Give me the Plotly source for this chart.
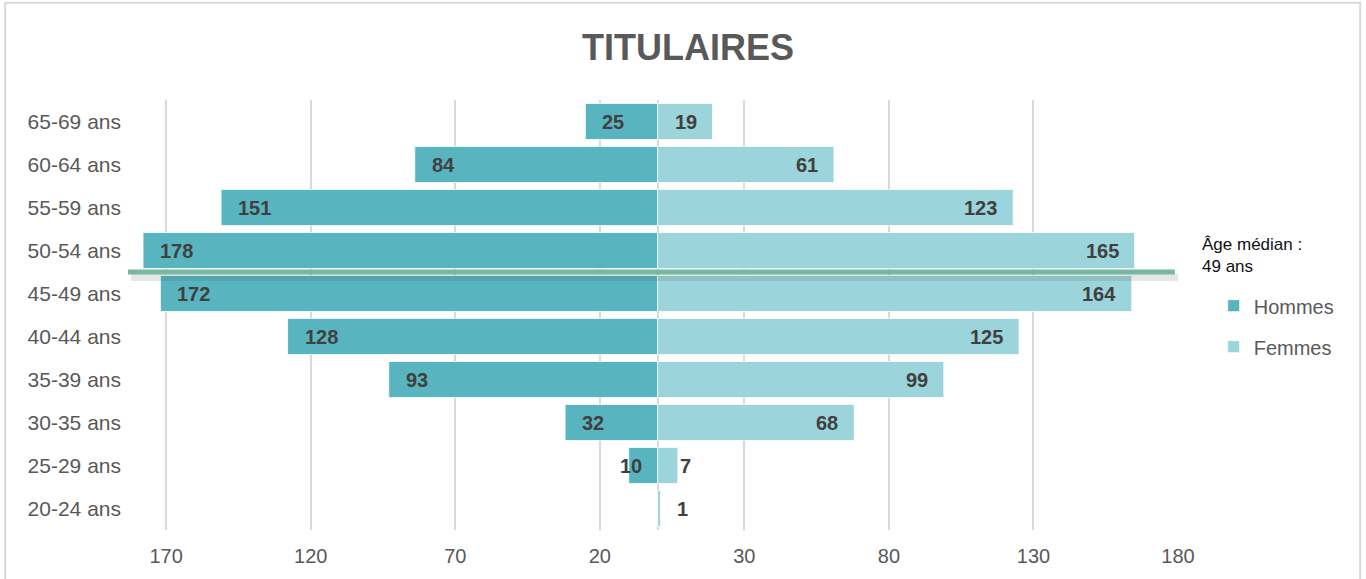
import plotly.graph_objects as go

categories = ["20-24 ans", "25-29 ans", "30-35 ans", "35-39 ans", "40-44 ans",
              "45-49 ans", "50-54 ans", "55-59 ans", "60-64 ans", "65-69 ans"]
hommes = [0, 10, 32, 93, 128, 172, 178, 151, 84, 25]
femmes = [1, 7, 68, 99, 125, 164, 165, 123, 61, 19]
tick_vals = [-170, -120, -70, -20, 30, 80, 130, 180]
tick_text = ["170", "120", "70", "20", "30", "80", "130", "180"]
median_label = "Âge médian :<br>49 ans"
median_pos = 5.5  # boundary between 45-49 and 50-54

C_H = "#58B5C0"
C_F = "#9BD4DB"
TXT = "#595959"
LAB = "#404040"
FONT = "Liberation Sans, Arial, sans-serif"

fig = go.Figure()
fig.add_trace(go.Bar(
    y=categories, x=[-v for v in hommes], orientation="h", name="Hommes",
    marker=dict(color=C_H, line=dict(color="white", width=0.8)),
    legendgroup="h", hoverinfo="skip",
))
fig.add_trace(go.Bar(
    y=categories, x=femmes, orientation="h", name="Femmes",
    marker=dict(color=C_F, line=dict(color="white", width=0.8)),
    legendgroup="f", hoverinfo="skip",
))

lab_font = dict(size=20, color=LAB, family=FONT)
annotations = []
for cat, v in zip(categories, hommes):
    if v <= 0:
        continue
    if v >= 20:
        annotations.append(dict(x=-v, y=cat, text=f"<b>{v}</b>", xanchor="left", xshift=15,
                                showarrow=False, font=lab_font))
    else:
        annotations.append(dict(x=-v, y=cat, text=f"<b>{v}</b>", xanchor="center", xshift=2,
                                showarrow=False, font=lab_font))
for cat, v in zip(categories, femmes):
    if v <= 0:
        continue
    if v >= 15:
        annotations.append(dict(x=v, y=cat, text=f"<b>{v}</b>", xanchor="right", xshift=-14,
                                showarrow=False, font=lab_font))
    else:
        annotations.append(dict(x=max(v, 6), y=cat, text=f"<b>{v}</b>", xanchor="left", xshift=0,
                                showarrow=False, font=lab_font))

annotations.append(dict(xref="paper", yref="paper", x=1.0205, y=0.69, xanchor="left", yanchor="top",
                        text=median_label, showarrow=False, align="left",
                        font=dict(size=17, color="#111111", family=FONT)))

shapes = [
    # frame
    dict(type="rect", xref="paper", yref="paper", x0=-0.117, x1=1.1735, y0=-0.15, y1=1.226,
         line=dict(color="#D9D9D9", width=2), fillcolor="rgba(0,0,0,0)", layer="below"),
    # median shadow
    dict(type="line", xref="paper", yref="y", x0=0.003, x1=1.0, y0=median_pos - 0.13, y1=median_pos - 0.13,
         line=dict(color="rgba(60,60,60,0.13)", width=7), layer="above"),
    # median line
    dict(type="line", xref="paper", yref="y", x0=0.0, x1=0.997, y0=median_pos, y1=median_pos,
         line=dict(color="#76B9A0", width=5), layer="above"),
]

fig.update_layout(
    width=1366, height=579,
    template="none",
    paper_bgcolor="white", plot_bgcolor="white",
    font=dict(family=FONT, color=TXT, size=20),
    barmode="overlay", bargap=0.16,
    margin=dict(l=128, r=188, t=100, b=49, pad=0),
    title=dict(text="<b>TITULAIRES</b>", x=0.5036, xref="container", xanchor="center",
               y=1 - 47 / 579, yref="container", yanchor="middle",
               font=dict(size=36, color=TXT, family=FONT)),
    xaxis=dict(range=[-183.2, 180], tickvals=tick_vals, ticktext=tick_text,
               showgrid=True, gridcolor="#D9D9D9", gridwidth=2,
               zeroline=True, zerolinecolor="#D9D9D9", zerolinewidth=2,
               showline=False, ticks="", tickfont=dict(size=20, color=TXT),
               ticklabelstandoff=12, fixedrange=True),
    yaxis=dict(type="category", categoryorder="array", categoryarray=categories,
               range=[-0.5, 9.5], showgrid=False, zeroline=False, showline=False,
               ticks="", tickfont=dict(size=21, color=TXT), ticklabelstandoff=6,
               fixedrange=True),
    legend=dict(x=1.034, y=0.567, xanchor="left", yanchor="top",
                font=dict(size=20, color=TXT), traceorder="grouped", tracegroupgap=12,
                bgcolor="rgba(0,0,0,0)", itemwidth=30),
    showlegend=True,
    annotations=annotations,
    shapes=shapes,
)

fig.write_html("out.html", config={"displayModeBar": False},
               post_script="document.body.style.margin='0';document.body.style.padding='0';")
